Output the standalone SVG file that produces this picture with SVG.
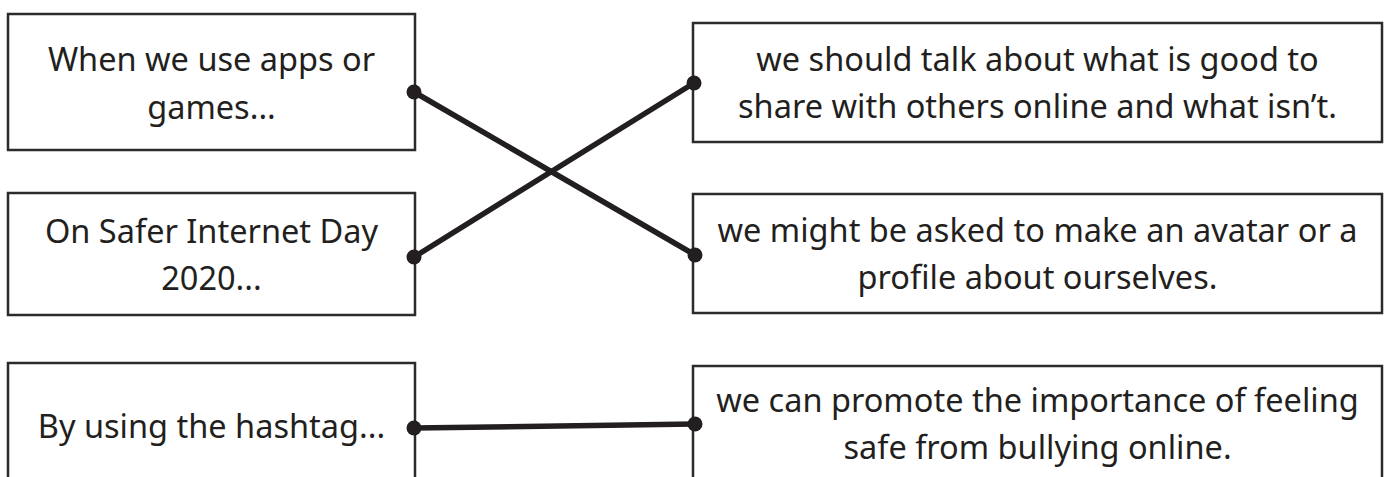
<svg xmlns="http://www.w3.org/2000/svg" width="1384" height="477" viewBox="0 0 1384 477">
<style>
.box{fill:#fff;stroke:#2b2b2b;stroke-width:2.5}
.t{font-family:"Noto Sans","Open Sans",sans-serif;font-size:32.5px;fill:#231f20;text-anchor:middle}
.c{stroke:#231f20;stroke-width:5.5;fill:none;stroke-linecap:round}
.d{fill:#231f20}
</style>
<rect width="1384" height="477" fill="#fff"/>
<g id="left1"><rect class="box" x="8" y="14" width="407" height="136"/><text class="t" x="211.5" y="71">When we use apps or</text><text class="t" x="211.5" y="119">games...</text></g>
<g id="left2"><rect class="box" x="8" y="193" width="407" height="122"/><text class="t" x="211.5" y="243">On Safer Internet Day</text><text class="t" x="211.5" y="290">2020...</text></g>
<g id="left3"><rect class="box" x="8" y="363" width="407" height="130"/><text class="t" x="211.5" y="438">By using the hashtag...</text></g>
<g id="right1"><rect class="box" x="693" y="23" width="689" height="119"/><text class="t" x="1037.5" y="71">we should talk about what is good to</text><text class="t" x="1037.5" y="118">share with others online and what isn’t.</text></g>
<g id="right2"><rect class="box" x="693" y="194" width="689" height="119"/><text class="t" x="1037.5" y="242">we might be asked to make an avatar or a</text><text class="t" x="1037.5" y="289">profile about ourselves.</text></g>
<g id="right3"><rect class="box" x="693" y="366" width="689" height="130"/><text class="t" x="1037.5" y="412">we can promote the importance of feeling</text><text class="t" x="1037.5" y="459">safe from bullying online.</text></g>
<g id="connectors">
<line class="c" x1="414" y1="92" x2="695" y2="255"/>
<line class="c" x1="414" y1="257" x2="694" y2="83"/>
<line class="c" x1="414" y1="428" x2="695" y2="424"/>
<circle class="d" cx="414" cy="92" r="7.5"/>
<circle class="d" cx="695" cy="255" r="7.5"/>
<circle class="d" cx="414" cy="257" r="7.5"/>
<circle class="d" cx="694" cy="83" r="7.5"/>
<circle class="d" cx="414" cy="428" r="7.5"/>
<circle class="d" cx="695" cy="424" r="7.5"/>
</g>
</svg>
